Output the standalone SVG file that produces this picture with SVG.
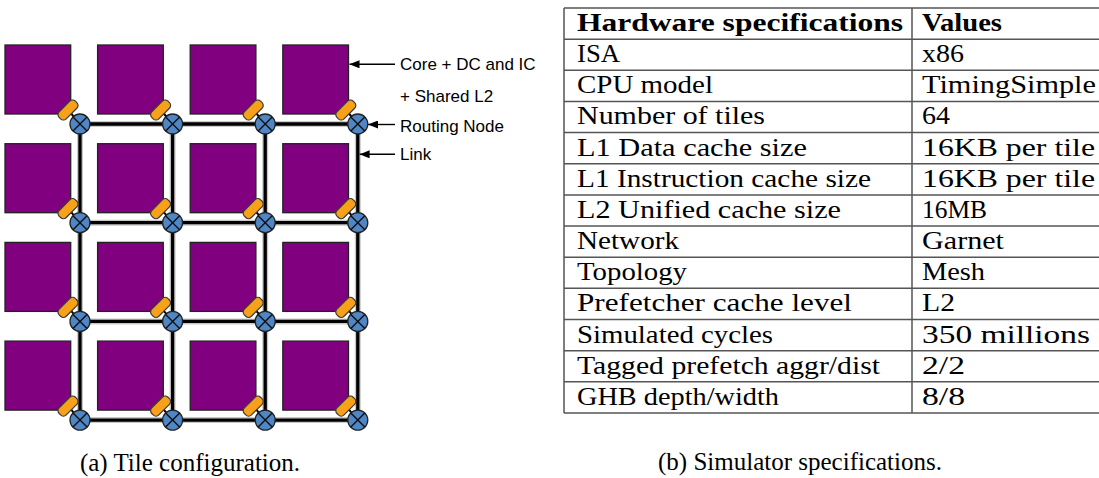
<svg xmlns="http://www.w3.org/2000/svg" width="1099" height="478" viewBox="0 0 1099 478">
<style>
.tile{fill:#800080;stroke:#222;stroke-width:1.3}
.pad{fill:#f7a11a;stroke:#3a3a3a;stroke-width:1.2}
.rn{fill:#4f86c6;stroke:#222;stroke-width:1.3}
.x{stroke:#111;stroke-width:1.4}
.link{stroke:#000;stroke-width:3.3;fill:none}
.halo{stroke:#c8c8c8;stroke-width:6;fill:none}
.lbl{font-family:"Liberation Sans",Arial,sans-serif;font-size:17px;fill:#000}
.arr{stroke:#000;stroke-width:1.4;fill:none}
.tl{stroke:#555;stroke-width:1.5}
.t{font-family:"Liberation Serif","Times New Roman",serif;font-size:25px;fill:#000}
.b{font-weight:bold}
</style>
<defs>
<marker id="ah" markerWidth="10" markerHeight="8" refX="10" refY="4" orient="auto" markerUnits="userSpaceOnUse">
<path d="M0,0 L10,4 L0,8 Z" fill="#000"/>
</marker>
<g id="tileShape">
<rect class="tile" x="-75" y="-79" width="65.7" height="69"/>
<line x1="-11" y1="-13" x2="0" y2="0" stroke="#000" stroke-width="2"/>
<rect class="pad" x="-11.5" y="-5" width="23" height="10" rx="4" transform="translate(-12,-14) rotate(-45)"/>
</g>
<g id="rnode">
<circle class="rn" r="10"/>
<line class="x" x1="-7" y1="-7" x2="7" y2="7"/>
<line class="x" x1="-7" y1="7" x2="7" y2="-7"/>
</g>
</defs>
<rect width="1099" height="478" fill="#fff"/>

<g id="connectors">
<g class="halo">
<line x1="80" y1="124" x2="357.8" y2="124"/>
<line x1="80" y1="222.7" x2="357.8" y2="222.7"/>
<line x1="80" y1="321.4" x2="357.8" y2="321.4"/>
<line x1="80" y1="420.1" x2="357.8" y2="420.1"/>
<line x1="80" y1="124" x2="80" y2="420.1"/>
<line x1="172.6" y1="124" x2="172.6" y2="420.1"/>
<line x1="265.2" y1="124" x2="265.2" y2="420.1"/>
<line x1="357.8" y1="124" x2="357.8" y2="420.1"/>
</g>
<g class="link">
<line x1="80" y1="124" x2="357.8" y2="124"/>
<line x1="80" y1="222.7" x2="357.8" y2="222.7"/>
<line x1="80" y1="321.4" x2="357.8" y2="321.4"/>
<line x1="80" y1="420.1" x2="357.8" y2="420.1"/>
<line x1="80" y1="124" x2="80" y2="420.1"/>
<line x1="172.6" y1="124" x2="172.6" y2="420.1"/>
<line x1="265.2" y1="124" x2="265.2" y2="420.1"/>
<line x1="357.8" y1="124" x2="357.8" y2="420.1"/>
</g>
<line class="arr" x1="395" y1="64.3" x2="349.5" y2="64.3" marker-end="url(#ah)"/>
<line class="arr" x1="395" y1="124.5" x2="368" y2="124.5" marker-end="url(#ah)"/>
<line class="arr" x1="395" y1="154.3" x2="359.6" y2="154.3" marker-end="url(#ah)"/>
</g>

<g id="tiles">
<g id="t00"><use href="#tileShape" x="80" y="124"/><use href="#rnode" x="80" y="124"/></g>
<g id="t01"><use href="#tileShape" x="172.6" y="124"/><use href="#rnode" x="172.6" y="124"/></g>
<g id="t02"><use href="#tileShape" x="265.2" y="124"/><use href="#rnode" x="265.2" y="124"/></g>
<g id="t03"><use href="#tileShape" x="357.8" y="124"/><use href="#rnode" x="357.8" y="124"/></g>
<g id="t10"><use href="#tileShape" x="80" y="222.7"/><use href="#rnode" x="80" y="222.7"/></g>
<g id="t11"><use href="#tileShape" x="172.6" y="222.7"/><use href="#rnode" x="172.6" y="222.7"/></g>
<g id="t12"><use href="#tileShape" x="265.2" y="222.7"/><use href="#rnode" x="265.2" y="222.7"/></g>
<g id="t13"><use href="#tileShape" x="357.8" y="222.7"/><use href="#rnode" x="357.8" y="222.7"/></g>
<g id="t20"><use href="#tileShape" x="80" y="321.4"/><use href="#rnode" x="80" y="321.4"/></g>
<g id="t21"><use href="#tileShape" x="172.6" y="321.4"/><use href="#rnode" x="172.6" y="321.4"/></g>
<g id="t22"><use href="#tileShape" x="265.2" y="321.4"/><use href="#rnode" x="265.2" y="321.4"/></g>
<g id="t23"><use href="#tileShape" x="357.8" y="321.4"/><use href="#rnode" x="357.8" y="321.4"/></g>
<g id="t30"><use href="#tileShape" x="80" y="420.1"/><use href="#rnode" x="80" y="420.1"/></g>
<g id="t31"><use href="#tileShape" x="172.6" y="420.1"/><use href="#rnode" x="172.6" y="420.1"/></g>
<g id="t32"><use href="#tileShape" x="265.2" y="420.1"/><use href="#rnode" x="265.2" y="420.1"/></g>
<g id="t33"><use href="#tileShape" x="357.8" y="420.1"/><use href="#rnode" x="357.8" y="420.1"/></g>
</g>

<g id="legend">
<text class="lbl" x="400" y="70">Core + DC and IC</text>
<text class="lbl" x="400" y="101.5">+ Shared L2</text>
<text class="lbl" x="400" y="132">Routing Node</text>
<text class="lbl" x="400" y="160">Link</text>
</g>

<g id="caption-a">
<text class="t" x="190" y="471" text-anchor="middle">(a) Tile configuration.</text>
</g>

<g id="table">
<g class="tl">
<line x1="564" y1="8" x2="1099" y2="8"/>
<line x1="564" y1="39.15" x2="1099" y2="39.15"/>
<line x1="564" y1="70.3" x2="1099" y2="70.3"/>
<line x1="564" y1="101.45" x2="1099" y2="101.45"/>
<line x1="564" y1="132.6" x2="1099" y2="132.6"/>
<line x1="564" y1="163.75" x2="1099" y2="163.75"/>
<line x1="564" y1="194.9" x2="1099" y2="194.9"/>
<line x1="564" y1="226.05" x2="1099" y2="226.05"/>
<line x1="564" y1="257.2" x2="1099" y2="257.2"/>
<line x1="564" y1="288.35" x2="1099" y2="288.35"/>
<line x1="564" y1="319.5" x2="1099" y2="319.5"/>
<line x1="564" y1="350.65" x2="1099" y2="350.65"/>
<line x1="564" y1="381.8" x2="1099" y2="381.8"/>
<line x1="564" y1="412.95" x2="1099" y2="412.95"/>
<line x1="564" y1="8" x2="564" y2="412.95"/>
<line x1="912" y1="8" x2="912" y2="412.95"/>
</g>
<text class="t b" x="577" y="31" textLength="326" lengthAdjust="spacingAndGlyphs">Hardware specifications</text>
<text class="t b" x="922" y="31" textLength="80" lengthAdjust="spacingAndGlyphs">Values</text>
<text class="t" x="577" y="62.15" textLength="43" lengthAdjust="spacingAndGlyphs">ISA</text>
<text class="t" x="922" y="62.15" textLength="42" lengthAdjust="spacingAndGlyphs">x86</text>
<text class="t" x="577" y="93.3" textLength="136" lengthAdjust="spacingAndGlyphs">CPU model</text>
<text class="t" x="922" y="93.3" textLength="174" lengthAdjust="spacingAndGlyphs">TimingSimple</text>
<text class="t" x="577" y="124.45" textLength="188" lengthAdjust="spacingAndGlyphs">Number of tiles</text>
<text class="t" x="922" y="124.45" textLength="28" lengthAdjust="spacingAndGlyphs">64</text>
<text class="t" x="577" y="155.6" textLength="230" lengthAdjust="spacingAndGlyphs">L1 Data cache size</text>
<text class="t" x="922" y="155.6" textLength="173" lengthAdjust="spacingAndGlyphs">16KB per tile</text>
<text class="t" x="577" y="186.75" textLength="294" lengthAdjust="spacingAndGlyphs">L1 Instruction cache size</text>
<text class="t" x="922" y="186.75" textLength="173" lengthAdjust="spacingAndGlyphs">16KB per tile</text>
<text class="t" x="577" y="217.9" textLength="264" lengthAdjust="spacingAndGlyphs">L2 Unified cache size</text>
<text class="t" x="922" y="217.9" textLength="65" lengthAdjust="spacingAndGlyphs">16MB</text>
<text class="t" x="577" y="249.05" textLength="102" lengthAdjust="spacingAndGlyphs">Network</text>
<text class="t" x="922" y="249.05" textLength="82" lengthAdjust="spacingAndGlyphs">Garnet</text>
<text class="t" x="577" y="280.2" textLength="110" lengthAdjust="spacingAndGlyphs">Topology</text>
<text class="t" x="922" y="280.2" textLength="63" lengthAdjust="spacingAndGlyphs">Mesh</text>
<text class="t" x="577" y="311.35" textLength="275" lengthAdjust="spacingAndGlyphs">Prefetcher cache level</text>
<text class="t" x="922" y="311.35" textLength="33" lengthAdjust="spacingAndGlyphs">L2</text>
<text class="t" x="577" y="342.5" textLength="196" lengthAdjust="spacingAndGlyphs">Simulated cycles</text>
<text class="t" x="922" y="342.5" textLength="168" lengthAdjust="spacingAndGlyphs">350 millions</text>
<text class="t" x="577" y="373.65" textLength="303" lengthAdjust="spacingAndGlyphs">Tagged prefetch aggr/dist</text>
<text class="t" x="922" y="373.65" textLength="43" lengthAdjust="spacingAndGlyphs">2/2</text>
<text class="t" x="577" y="404.8" textLength="202" lengthAdjust="spacingAndGlyphs">GHB depth/width</text>
<text class="t" x="922" y="404.8" textLength="43" lengthAdjust="spacingAndGlyphs">8/8</text>
</g>

<g id="caption-b">
<text class="t" x="800" y="470" text-anchor="middle">(b) Simulator specifications.</text>
</g>
</svg>
